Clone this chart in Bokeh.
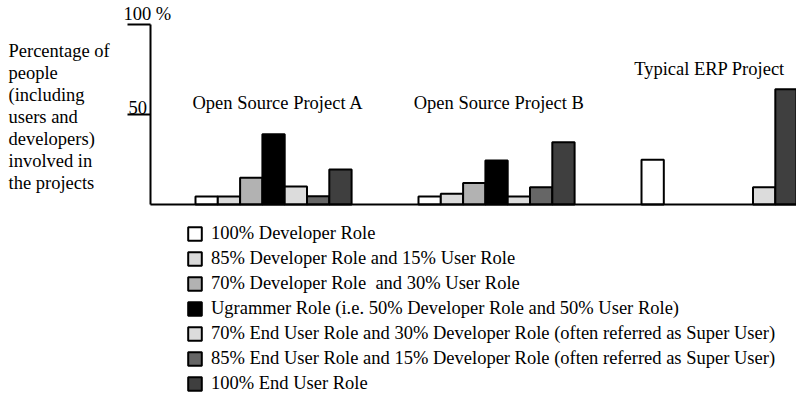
from bokeh.plotting import figure
from bokeh.models import (ColumnDataSource, Range1d, LinearAxis, FixedTicker,
                          Label, Legend, LegendItem)
from bokeh.embed import file_html
from bokeh.resources import INLINE

FONT = "Liberation Serif"

# ---- data ----
series_labels = [
    "100% Developer Role",
    "85% Developer Role and 15% User Role",
    "70% Developer Role  and 30% User Role",
    "Ugrammer Role (i.e. 50% Developer Role and 50% User Role)",
    "70% End User Role and 30% Developer Role (often referred as Super User)",
    "85% End User Role and 15% Developer Role (often referred as Super User)",
    "100% End User Role",
]
series_colors = ["#ffffff", "#dadada", "#b2b2b2", "#000000", "#dcdcdc", "#666666", "#3f3f3f"]

projects = ["Open Source Project A", "Open Source Project B", "Typical ERP Project"]
project_a = [4.5, 4.5, 14.8, 39.0, 10.0, 4.6, 19.4]
project_b = [4.4, 6.0, 12.0, 24.4, 4.4, 9.6, 34.6]
project_erp = [24.8, 0.0, 0.0, 0.0, 9.6, 0.0, 64.0]
project_values = [project_a, project_b, project_erp]
# slot order of each series inside its project group
group_start = [0, 10, 20]
group_slots = [[0, 1, 2, 3, 4, 5, 6], [0, 1, 2, 3, 4, 5, 6], [0, 1, 2, 3, 5, 4, 6]]
title_y = [56.1, 56.1, 75.0]
title_dx = [0.2, 0.1, -0.45]

y_ticks = [50, 100]
y_tick_labels = ["50", "100 %"]

ylabel_lines = ["Percentage of", "people", "(including", "users and",
                "developers)", "involved in", "the projects"]

AXIS_X = -2.02   # x position (in bar slots) of the value axis

# ---- figure ----
p = figure(width=796, height=397, output_backend="svg", toolbar_location=None,
           x_range=Range1d(-8.744, 26.95), y_range=Range1d(-107.2, 113.3),
           x_axis_type=None, y_axis_type=None,
           min_border_left=0, min_border_right=0, min_border_top=0, min_border_bottom=0)
p.outline_line_color = None
p.grid.visible = False
p.background_fill_color = "white"
p.border_fill_color = "white"

yaxis = LinearAxis(bounds=(0, 100), ticker=FixedTicker(ticks=y_ticks), fixed_location=AXIS_X,
                   major_tick_out=23, major_tick_in=0, minor_tick_out=0, minor_tick_in=0,
                   major_label_overrides={t: "" for t in y_ticks}, axis_line_width=2,
                   major_tick_line_width=2, axis_line_color="black", major_tick_line_color="black")
p.add_layout(yaxis, "left")

items = []
for s, (lab, col) in enumerate(zip(series_labels, series_colors)):
    xs, tops = [], []
    for g in range(len(projects)):
        v = project_values[g][s]
        if v > 0:
            xs.append(group_start[g] + group_slots[g][s] + 0.5)
            tops.append(v)
    src = ColumnDataSource(dict(x=xs, top=tops))
    r = p.vbar(x="x", top="top", bottom=0, width=1.0, source=src,
               fill_color=col, line_color="black", line_width=2)
    items.append(LegendItem(label=lab, renderers=[r]))

# baseline from the value axis to the right edge
p.segment(x0=[AXIS_X], y0=[0], x1=[p.x_range.end], y1=[0], line_color="black", line_width=2)

# group titles
for g, name in enumerate(projects):
    p.add_layout(Label(x=group_start[g] + 3.5 + title_dx[g], y=title_y[g], text=name,
                       text_font=FONT, text_font_size="18.5px", text_color="black",
                       text_align="center", text_baseline="middle"))

# tick labels (above their tick lines)
tick_label_dx = [-22, -27]
for t, tl, dx in zip(y_ticks, y_tick_labels, tick_label_dx):
    p.add_layout(Label(x=AXIS_X, y=t + 0.4, x_offset=dx, text=tl,
                       text_font=FONT, text_font_size="18.5px", text_color="black",
                       text_align="left", text_baseline="bottom"))

# left description
for i, line in enumerate(ylabel_lines):
    p.add_layout(Label(x=8, x_units="screen", y=397 - 50 - 22 * i, y_units="screen",
                       text=line, text_font=FONT, text_font_size="18.5px", text_color="black",
                       text_align="left", text_baseline="middle"))

legend = Legend(items=items, location=(186, 3), orientation="vertical",
                glyph_width=17, glyph_height=17, label_height=21, spacing=4,
                label_standoff=8, padding=0, margin=0,
                label_text_font=FONT, label_text_font_size="18.5px", label_text_color="black",
                border_line_alpha=0, background_fill_alpha=0)
p.add_layout(legend, "center")

open("out.html", "w").write(file_html(p, INLINE))
